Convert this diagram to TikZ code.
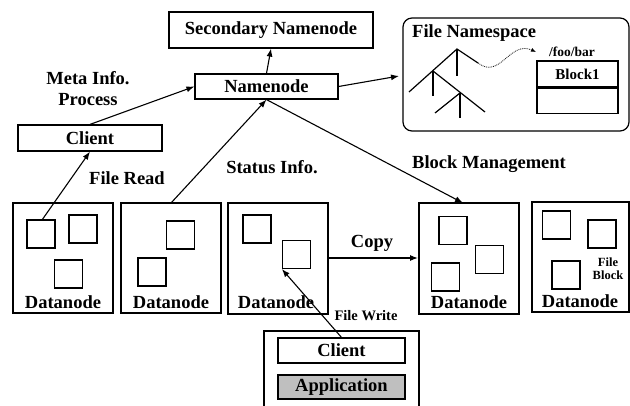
\documentclass[tikz,border=0pt]{standalone}
\usepackage{fontspec}
\setmainfont{Liberation Serif}
\usetikzlibrary{arrows.meta}
\begin{document}
\begin{tikzpicture}[x=1pt,y=-1pt,
  every node/.style={font=\fontsize{18.5}{21}\selectfont\bfseries, inner sep=0pt},
  box/.style={draw, line width=1.2pt},
  sq/.style={draw, line width=1.2pt},
  arr/.style={line width=1.1pt, -{Latex[length=8pt,width=6pt]}},
  lbl/.style={align=center},
  small/.style={font=\fontsize{12.5}{13}\selectfont\bfseries, align=center},
]
\useasboundingbox (0,0) rectangle (630,406);
% top boxes
\node[box, minimum width=204pt, minimum height=36pt] (sec) at (271,30) {Secondary Namenode};
\node[box, minimum width=143pt, minimum height=25pt] (nn) at (266.5,86.5) {Namenode};
\node[box, minimum width=144pt, minimum height=26pt] (cl) at (90,138) {Client};
\node[lbl] (meta) at (88,89) {Meta Info.\\Process};
% namespace
\draw[line width=1.2pt, rounded corners=9pt] (403,18) rectangle (629,131);
\node[anchor=west] (fns) at (412,33) {File Namespace};
\coordinate (apex) at (457,49);
\coordinate (ll) at (409,92);
\coordinate (rr) at (478,63);
\coordinate (na) at (433,71);
\coordinate (nb) at (460,93);
\draw[line width=1.2pt] (ll) -- (apex) -- (rr);
\draw[line width=1.2pt] (apex) -- (457,76);
\draw[line width=1.2pt] (na) -- (433,96);
\draw[line width=1.2pt] (na) -- (485,112);
\draw[line width=1.2pt] (nb) -- (460,118);
\draw[line width=1.2pt] (nb) -- (435,113);
\node[box, minimum width=81pt, minimum height=26pt, font=\fontsize{15}{16}\selectfont\bfseries] (b1) at (577.5,74) {Block1};
\node[box, minimum width=81pt, minimum height=25pt, anchor=north] (b2) at (b1.south) {};
\node[font=\fontsize{13.5}{14}\selectfont\bfseries] (foo) at (572,52) {/foo/bar};
\coordinate (dotend) at (536,52);
\draw[densely dotted, line width=0.8pt, -{Latex[length=5pt,width=4pt]}] (rr) .. controls (500,80) and (510,40) .. (dotend);
% datanodes
\foreach \n/\l/\t/\r/\b in {d1/13/203/113/313, d2/121/203/221/313, d3/228/203/328/314, d4/419/203/519/314, d5/532/202/629/312}{
  \draw[box] (\l,\t) rectangle (\r,\b);
}
\coordinate (d1top) at (63,203);
\coordinate (d2top) at (171,203);
\coordinate (d4top) at (463,203);
\node (d1l) at (63,302) {Datanode};
\node (d2l) at (171,302) {Datanode};
\node (d3l) at (276,302) {Datanode};
\node (d4l) at (469,302) {Datanode};
\node (d5l) at (580,301) {Datanode};
% squares
\node[sq, minimum size=28pt] (s11) at (41,234) {};
\node[sq, minimum size=28pt] (s12) at (83,229) {};
\node[sq, minimum size=28pt] (s13) at (68.5,274) {};
\node[sq, minimum size=28pt] (s21) at (180.5,235) {};
\node[sq, minimum size=28pt] (s22) at (152,272) {};
\node[sq, minimum size=28pt] (s31) at (257,229) {};
\node[sq, minimum size=28pt] (s32) at (296.5,254.5) {};
\node[sq, minimum size=28pt] (s41) at (453,230.5) {};
\node[sq, minimum size=28pt] (s42) at (489.5,259.5) {};
\node[sq, minimum size=28pt] (s43) at (445.5,277) {};
\node[sq, minimum size=28pt] (s51) at (556.5,225) {};
\node[sq, minimum size=28pt] (s52) at (602,234) {};
\node[sq, minimum size=28pt] (s53) at (566,275) {};
\node[small] (fb) at (608,268.5) {File\\Block};
% bottom container
\draw[line width=1.2pt] (264,406) -- (264,331) -- (419,331) -- (419,406);
\node[box, minimum width=127pt, minimum height=25pt] (cl2) at (341.5,350.5) {Client};
\node[box, fill=black!25, minimum width=127pt, minimum height=24pt] (app) at (341.5,387) {Application};
% arrows
\draw[arr] (cl.north) -- (nn.west);
\draw[arr] (nn.north) -- (sec.south);
\draw[arr] (nn.east) -- (399,76);
\coordinate (x1) at (42,220);
\draw[arr] (x1) -- (cl.south);
\draw[arr] (d2top) -- (nn.south);
\draw[arr] (nn.south) -- (d4top);
\draw[arr] (328,258) -- (418,258);
\draw[arr] (342,338) -- (s32.south west);
\node (fr) at (127,178) {File Read};
\node (si) at (272,167) {Status Info.};
\node (bm) at (489,164) {Block Management};
\node (cp) at (372,243) {Copy};
\node[font=\fontsize{14.5}{15}\selectfont\bfseries] (fw) at (366,316) {File Write};
\end{tikzpicture}
\end{document}
